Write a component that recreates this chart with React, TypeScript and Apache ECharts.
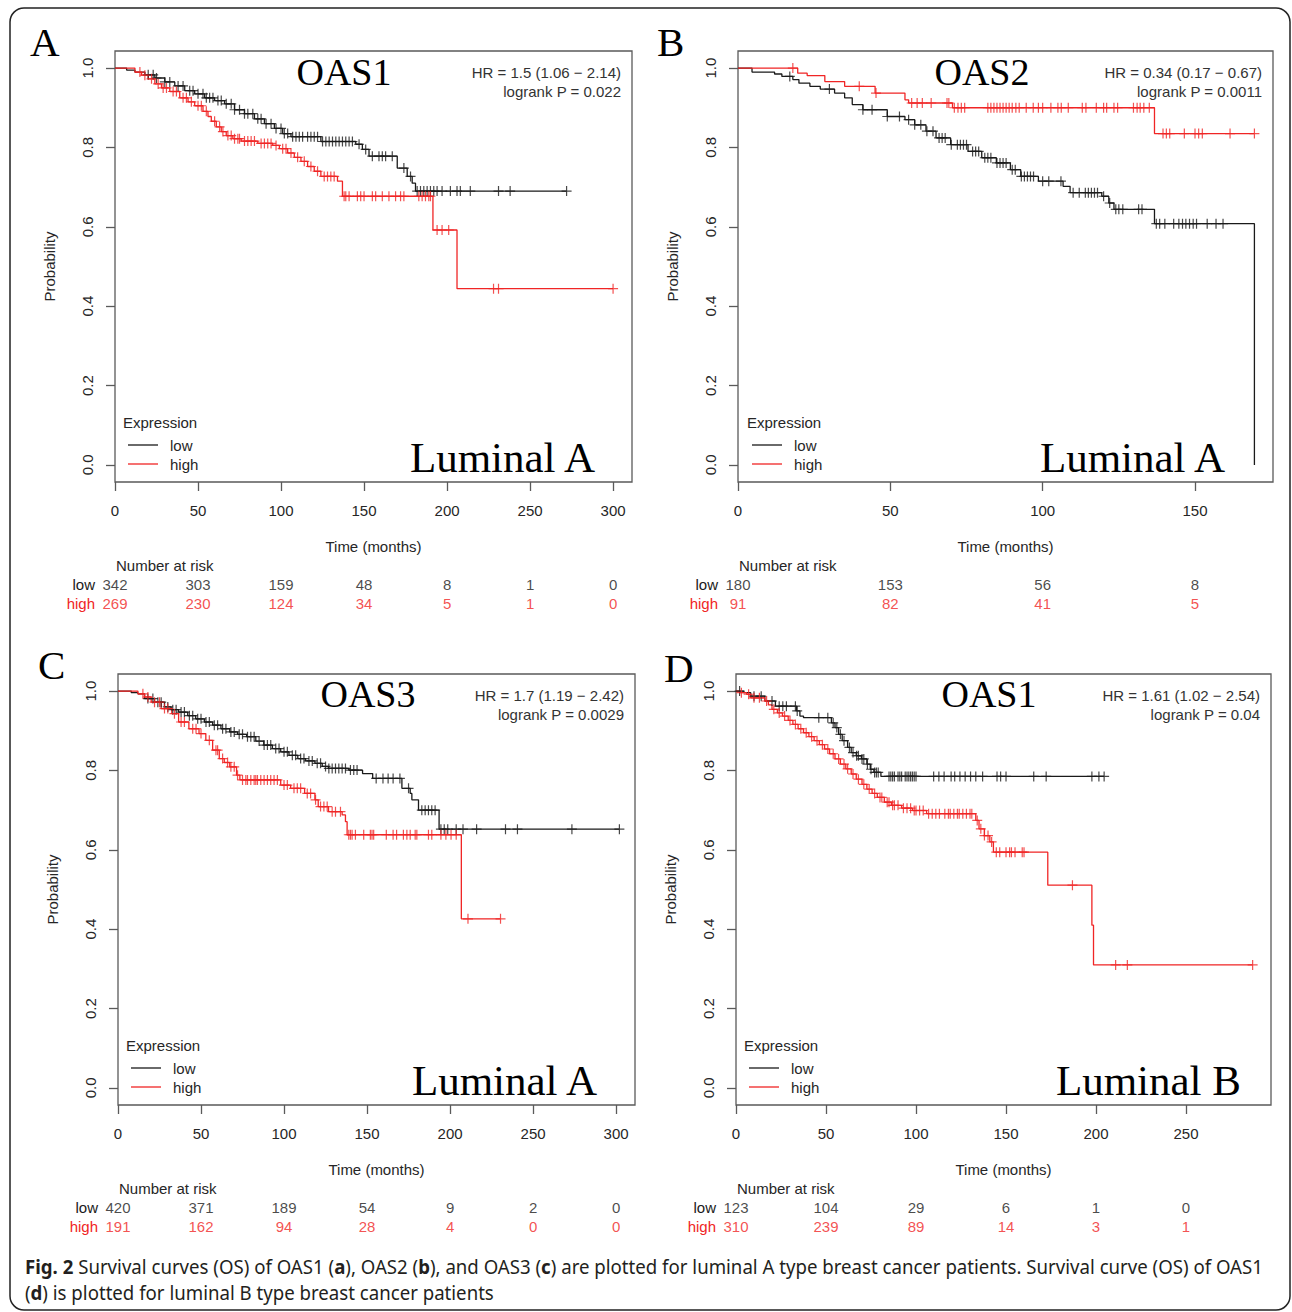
import React, { useEffect, useRef } from "react";
import * as echarts from "echarts";

// ---------------- Panel A : OAS1, Luminal A ----------------
const A_LOW_T = [0, 7, 12, 18, 24, 30, 36, 42, 48, 54, 60, 66, 72, 78, 84, 90, 96, 101, 106, 124, 145, 149, 153, 170, 176, 179, 181];
const A_LOW_S = [1, 0.995, 0.99, 0.983, 0.975, 0.965, 0.955, 0.943, 0.935, 0.925, 0.918, 0.91, 0.895, 0.885, 0.872, 0.86, 0.848, 0.835, 0.827, 0.815, 0.808, 0.795, 0.778, 0.748, 0.727, 0.71, 0.69];
const A_LOW_C = [20, 23, 25, 30, 33, 38, 41, 45, 47, 50, 53, 55, 57, 59, 62, 64, 67, 70, 72, 75, 78, 80, 83, 86, 88, 91, 94, 97, 100, 102, 104, 107, 109, 111, 113, 116, 118, 120, 122, 125, 127, 129, 131, 133, 135, 137, 139, 141, 143, 147, 151, 155, 159, 161, 163, 167, 174, 178, 182, 184, 186, 188, 190, 192, 194, 197, 202, 206, 208, 214, 231, 238, 272];
const A_HIGH_T = [0, 12, 16, 20, 24, 28, 33, 39, 44, 48, 53, 56, 58, 61, 64, 67, 71, 76, 86, 95, 99, 104, 108, 112, 116, 120, 124, 134, 137, 191.5, 206];
const A_HIGH_S = [1, 0.99, 0.982, 0.973, 0.96, 0.95, 0.941, 0.925, 0.915, 0.905, 0.891, 0.878, 0.866, 0.852, 0.84, 0.83, 0.822, 0.816, 0.81, 0.805, 0.797, 0.786, 0.775, 0.765, 0.752, 0.74, 0.727, 0.715, 0.677, 0.592, 0.444];
const A_HIGH_C = [15, 18, 22, 26, 29, 31, 35, 37, 41, 43, 46, 50, 52, 55, 60, 63, 65, 68, 70, 72, 74, 75, 78, 80, 82, 84, 88, 90, 92, 94, 97, 101, 103, 106, 110, 114, 118, 122, 126, 128, 130, 132, 138, 139, 141, 146, 148, 150, 155, 157, 161, 165, 169, 172, 174, 183, 185, 187, 189, 190, 194, 197, 201, 228, 231, 300];
const A_TICKS = [0, 50, 100, 150, 200, 250, 300];
const A_RISK_LOW = [342, 303, 159, 48, 8, 1, 0];
const A_RISK_HIGH = [269, 230, 124, 34, 5, 1, 0];
const A_HR = "HR = 1.5 (1.06 \u2212 2.14)";
const A_P = "logrank P = 0.022";

// ---------------- Panel B : OAS2, Luminal A ----------------
const B_LOW_T = [0, 4.6, 12, 14.4, 18, 20, 23.6, 27, 31.7, 35, 37.5, 41, 49, 54.8, 58, 61.7, 65, 69.8, 75.5, 80, 84.8, 89.4, 92.8, 98.6, 106.7, 109, 119.4, 121.7, 123.4, 136.7, 169.5];
const B_LOW_S = [1, 0.99, 0.985, 0.979, 0.971, 0.962, 0.954, 0.947, 0.937, 0.925, 0.908, 0.895, 0.878, 0.87, 0.857, 0.841, 0.824, 0.807, 0.79, 0.774, 0.761, 0.744, 0.727, 0.715, 0.702, 0.686, 0.677, 0.66, 0.644, 0.608, 0];
const B_LOW_C = [17, 30, 41, 44, 49, 53, 56, 58, 60, 62, 64, 66, 67, 68, 70, 72, 73, 74, 75, 77, 78, 79, 81, 82, 83, 85, 86, 87, 88, 90, 91, 93, 94, 95, 96, 97, 100, 102, 106, 110, 112, 114, 115, 116, 117, 118, 120, 122, 124, 125, 126.3, 131.5, 132.6, 137.3, 138.4, 140.1, 143, 144.7, 145.9, 147, 148.2, 149.4, 150.5, 154, 156.9, 159.2];
const B_HIGH_T = [0, 19.6, 22.7, 28.5, 35, 45, 54.8, 56, 70.4, 136.7];
const B_HIGH_S = [1, 0.987, 0.981, 0.966, 0.954, 0.937, 0.92, 0.912, 0.9, 0.835];
const B_HIGH_C = [18, 39.8, 45.3, 57, 58.8, 60.5, 63.4, 68.6, 69.2, 71, 72.2, 73.3, 74.4, 82, 83, 84, 85, 86, 87, 88, 89, 90, 91.2, 92.3, 94.6, 96.9, 98.6, 100, 102.7, 105, 106.1, 108.4, 113, 114.2, 117.6, 120, 121, 123.4, 124.6, 129.8, 131, 132, 133.2, 135, 139.5, 140.6, 141.7, 146.5, 150, 151.2, 152.4, 161.5, 169.5];
const B_TICKS = [0, 50, 100, 150];
const B_RISK_LOW = [180, 153, 56, 8];
const B_RISK_HIGH = [91, 82, 41, 5];
const B_HR = "HR = 0.34 (0.17 \u2212 0.67)";
const B_P = "logrank P = 0.0011";

// ---------------- Panel C : OAS3, Luminal A ----------------
const C_LOW_T = [0, 8, 12, 16, 22, 28, 32, 36.5, 42, 46.8, 52, 57, 62, 67.3, 72, 77.5, 83, 87.8, 93, 98, 103, 108.3, 113, 118.6, 123, 126.8, 139, 147.3, 153.4, 171, 176, 177, 181, 193.4];
const C_LOW_S = [1, 0.996, 0.993, 0.981, 0.972, 0.96, 0.953, 0.947, 0.938, 0.93, 0.922, 0.914, 0.905, 0.897, 0.891, 0.885, 0.874, 0.864, 0.855, 0.847, 0.838, 0.83, 0.824, 0.818, 0.81, 0.805, 0.801, 0.792, 0.78, 0.755, 0.742, 0.726, 0.7, 0.652];
const C_LOW_C = [18, 21, 24, 26, 30, 33, 35, 38, 40, 43, 45, 48, 50, 53, 55, 58, 60, 63, 65, 68, 70, 73, 75, 78, 80, 82, 85, 88, 90, 92, 95, 97, 100, 102, 105, 107, 110, 112, 115, 117, 120, 122, 125, 127, 129, 131, 133, 135, 137, 140, 142, 144, 155.5, 159.6, 162.7, 165.7, 169.8, 175, 183, 185, 187, 189, 191, 194.5, 196.5, 198.6, 203.7, 207.8, 216, 233.4, 240.6, 273.4, 302];
const C_HIGH_T = [0, 12, 16, 20, 26, 32.4, 36.5, 42.7, 48.8, 52.9, 57, 61, 64, 67.3, 71.4, 73.4, 98, 104, 112.4, 118.6, 120.6, 126.8, 135, 137, 138, 206.8];
const C_HIGH_S = [1, 0.993, 0.985, 0.972, 0.956, 0.943, 0.922, 0.905, 0.893, 0.876, 0.851, 0.83, 0.82, 0.809, 0.788, 0.776, 0.763, 0.755, 0.742, 0.726, 0.709, 0.696, 0.688, 0.671, 0.638, 0.426];
const C_HIGH_C = [15, 18, 22, 25, 28, 30, 34, 38, 40, 45, 47, 50, 55, 59, 60, 63, 66, 68, 70, 72, 75, 77, 78, 80, 82, 83, 84, 86, 88, 90, 92, 94, 96, 100, 102, 106, 108, 110, 114, 116, 119, 122, 124, 126, 129, 131, 134, 139, 140, 141, 143, 148, 152, 153, 154, 161.6, 165.7, 167.8, 171.9, 174, 176, 179, 180, 187, 189, 194.5, 197.5, 200.6, 203.7, 210.8, 230.4];
const C_TICKS = [0, 50, 100, 150, 200, 250, 300];
const C_RISK_LOW = [420, 371, 189, 54, 9, 2, 0];
const C_RISK_HIGH = [191, 162, 94, 28, 4, 0, 0];
const C_HR = "HR = 1.7 (1.19 \u2212 2.42)";
const C_P = "logrank P = 0.0029";

// ---------------- Panel D : OAS1, Luminal B ----------------
const D_LOW_T = [0, 4.3, 8.2, 16, 21.9, 33.6, 35.5, 37.5, 53, 55, 57, 59, 62, 64, 66.8, 69.7, 72.7, 74.6, 76.6, 80.5];
const D_LOW_S = [1, 0.996, 0.987, 0.975, 0.962, 0.95, 0.937, 0.933, 0.92, 0.908, 0.891, 0.875, 0.858, 0.845, 0.837, 0.829, 0.816, 0.803, 0.795, 0.785];
const D_LOW_C = [2, 10, 14, 20, 24, 26, 28, 33, 34, 46, 51, 54, 56, 58, 60, 63, 65, 67, 68, 70, 71, 73, 75, 77, 78, 79, 85, 86, 87, 88, 90, 91, 92, 94, 95, 96, 97, 98, 99, 100, 109.8, 112.7, 115.6, 119.5, 121.5, 124.4, 127.3, 130.3, 133.2, 137, 145, 147, 150, 165.4, 172.3, 197.7, 201.6, 204.5];
const D_HIGH_T = [0, 2, 5.9, 8.2, 16, 18, 20, 23, 25.8, 29, 31.6, 34.5, 37.5, 40.5, 43.4, 46.3, 49.2, 52, 55, 58, 61, 64, 66.8, 70, 72.7, 75.6, 78.5, 82.4, 86.3, 92, 98, 105.9, 133.2, 135, 138, 141, 143, 173.2, 197.7, 198.6];
const D_HIGH_S = [1, 0.996, 0.992, 0.983, 0.975, 0.965, 0.954, 0.945, 0.937, 0.926, 0.916, 0.905, 0.895, 0.885, 0.875, 0.865, 0.854, 0.842, 0.829, 0.816, 0.804, 0.791, 0.778, 0.765, 0.753, 0.742, 0.732, 0.72, 0.712, 0.705, 0.699, 0.691, 0.674, 0.653, 0.636, 0.62, 0.594, 0.511, 0.41, 0.31];
const D_HIGH_C = [3, 7, 10, 13, 17, 21, 24, 27, 30, 33, 36, 39, 42, 45, 48, 51, 54, 57, 60, 62, 65, 68, 71, 74, 77, 80, 81, 84, 85, 87, 88, 90, 93, 95, 97, 99, 100, 102, 104, 107, 109, 111, 113, 116, 118, 119, 121, 123, 124, 126, 128, 130, 131, 134, 136, 138, 140, 142, 144.6, 146.5, 150, 152, 153, 155, 159, 160, 186.9, 210.9, 217.4, 287];
const D_TICKS = [0, 50, 100, 150, 200, 250];
const D_RISK_LOW = [123, 104, 29, 6, 1, 0];
const D_RISK_HIGH = [310, 239, 89, 14, 3, 1];
const D_HR = "HR = 1.61 (1.02 \u2212 2.54)";
const D_P = "logrank P = 0.04";

const Y_TICKS = [0, 0.2, 0.4, 0.6, 0.8, 1.0];
const CAPTION_1_PLAIN = "Survival curves (OS) of OAS1 (a), OAS2 (b), and OAS3 (c) are plotted for luminal A type breast cancer patients. Survival curve (OS) of OAS1";
const CAPTION_1 = "{b|Fig. 2} Survival curves (OS) of OAS1 ({b|a}), OAS2 ({b|b}), and OAS3 ({b|c}) are plotted for luminal A type breast cancer patients. Survival curve (OS) of OAS1";
const CAPTION_2 = "({b|d}) is plotted for luminal B type breast cancer patients";

// ---------------- styling ----------------
const SANS = '"Liberation Sans", Arial, Helvetica, sans-serif';
const SERIF = '"Liberation Serif", "Times New Roman", serif';
const CAP_FONT = '"Noto Sans", "Open Sans", sans-serif';
const BLACK = "#1a1a1a";
const RED = "#f02525";
const AXIS = "#5a5a5a";
const TXT = "#262626";
const PLUS = "path://M5,0L5,10M0,5L10,5";

type Panel = {
  grid: { left: number; top: number; width: number; height: number };
  xMax: number;
  ticks: number[];
  low: [number[], number[], number[]];
  high: [number[], number[], number[]];
  riskLow: number[];
  riskHigh: number[];
  riskTop: number;
  letter: [string, number, number];
  title: [string, number, number];
  hr: [string, string, number, number];
  legend: [number, number];
  subtype: [string, number, number];
};

const PANELS: Panel[] = [
  {
    grid: { left: 115, top: 51, width: 517, height: 431 }, xMax: 311.4, ticks: A_TICKS,
    low: [A_LOW_T, A_LOW_S, A_LOW_C], high: [A_HIGH_T, A_HIGH_S, A_HIGH_C],
    riskLow: A_RISK_LOW, riskHigh: A_RISK_HIGH, riskTop: 575,
    letter: ["A", 30, 42], title: ["OAS1", 344, 72], hr: [A_HR, A_P, 621, 72],
    legend: [123, 422], subtype: ["Luminal A", 595, 457],
  },
  {
    grid: { left: 738, top: 51, width: 535, height: 431 }, xMax: 175.6, ticks: B_TICKS,
    low: [B_LOW_T, B_LOW_S, B_LOW_C], high: [B_HIGH_T, B_HIGH_S, B_HIGH_C],
    riskLow: B_RISK_LOW, riskHigh: B_RISK_HIGH, riskTop: 575,
    letter: ["B", 657, 42], title: ["OAS2", 982, 72], hr: [B_HR, B_P, 1262, 72],
    legend: [747, 422], subtype: ["Luminal A", 1225, 457],
  },
  {
    grid: { left: 118, top: 674, width: 517, height: 431 }, xMax: 311.4, ticks: C_TICKS,
    low: [C_LOW_T, C_LOW_S, C_LOW_C], high: [C_HIGH_T, C_HIGH_S, C_HIGH_C],
    riskLow: C_RISK_LOW, riskHigh: C_RISK_HIGH, riskTop: 1198,
    letter: ["C", 38, 665], title: ["OAS3", 368, 694], hr: [C_HR, C_P, 624, 695],
    legend: [126, 1045], subtype: ["Luminal A", 597, 1080],
  },
  {
    grid: { left: 736, top: 674, width: 535, height: 431 }, xMax: 297.2, ticks: D_TICKS,
    low: [D_LOW_T, D_LOW_S, D_LOW_C], high: [D_HIGH_T, D_HIGH_S, D_HIGH_C],
    riskLow: D_RISK_LOW, riskHigh: D_RISK_HIGH, riskTop: 1198,
    letter: ["D", 664, 668], title: ["OAS1", 989, 694], hr: [D_HR, D_P, 1260, 695],
    legend: [744, 1045], subtype: ["Luminal B", 1241, 1080],
  },
];

function stepData(t: number[], s: number[], c: number[]) {
  const d: number[][] = t.map((x, i) => [x, s[i]]);
  const end = Math.max(...c);
  if (end > t[t.length - 1]) d.push([end, s[s.length - 1]]);
  return d;
}
function survAt(t: number[], s: number[], x: number) {
  let v = s[0];
  for (let i = 0; i < t.length; i++) if (t[i] <= x) v = s[i];
  return v;
}
function censorData(t: number[], s: number[], c: number[]) {
  return c.map((x) => [x, survAt(t, s, x)]);
}

function text(str: string, x: number, y: number, o: any = {}) {
  return {
    type: "text", x, y, silent: true, z: 50,
    style: {
      text: str, fill: o.fill || TXT, fontSize: o.size || 15, fontFamily: o.family || SANS,
      fontWeight: o.weight || "normal", align: o.align || "left", verticalAlign: "middle",
    },
  };
}

function buildOption() {
  const grids: any[] = [];
  const xAxes: any[] = [];
  const yAxes: any[] = [];
  const series: any[] = [];
  const graphic: any[] = [];

  PANELS.forEach((p, i) => {
    grids.push({ ...p.grid, show: true, borderColor: AXIS, borderWidth: 1.3, backgroundColor: "transparent" });
    xAxes.push({
      type: "value", gridIndex: i, min: 0, max: p.xMax, position: "bottom",
      axisLine: { show: false, onZero: false }, splitLine: { show: false },
      axisTick: { show: true, length: 9, lineStyle: { color: AXIS, width: 1.3 }, customValues: p.ticks },
      axisLabel: { customValues: p.ticks, margin: 21, fontSize: 15, color: TXT, fontFamily: SANS },
      name: "Time (months)", nameLocation: "middle", nameGap: 57,
      nameTextStyle: { fontSize: 15, color: TXT, fontFamily: SANS },
    });
    yAxes.push({
      type: "value", gridIndex: i, min: -0.043, max: 1.043, position: "left",
      axisLine: { show: false, onZero: false }, splitLine: { show: false },
      axisTick: { show: true, length: 9, lineStyle: { color: AXIS, width: 1.3 }, customValues: Y_TICKS },
      axisLabel: {
        customValues: Y_TICKS, rotate: 90, margin: 20, fontSize: 15, color: TXT, fontFamily: SANS,
        formatter: (v: number) => v.toFixed(1),
      },
      name: "Probability", nameLocation: "middle", nameGap: 58, nameRotate: 90,
      nameTextStyle: { fontSize: 15, color: TXT, fontFamily: SANS },
    });
  });

  PANELS.forEach((p, i) => {
    const gi = 4 + i;
    grids.push({ left: p.grid.left, width: p.grid.width, top: p.riskTop, height: 38, show: false });
    xAxes.push({ type: "value", gridIndex: gi, min: 0, max: p.xMax, show: false });
    yAxes.push({
      type: "category", gridIndex: gi, inverse: true,
      data: [
        { value: "low", textStyle: { color: BLACK } },
        { value: "high", textStyle: { color: RED } },
      ],
      axisLine: { show: false }, axisTick: { show: false }, splitLine: { show: false },
      axisLabel: { interval: 0, margin: 20, fontSize: 15, fontFamily: SANS },
    });
  });

  PANELS.forEach((p, i) => {
    const lines: [any, string, string][] = [[p.low, BLACK, "low"], [p.high, RED, "high"]];
    lines.forEach(([d, col, nm]) => {
      series.push({
        type: "line", name: nm, xAxisIndex: i, yAxisIndex: i, step: "end",
        showSymbol: false, symbol: "none", silent: true, z: 3,
        lineStyle: { color: col, width: 1.3 },
        data: stepData(d[0], d[1], d[2]),
      });
      series.push({
        type: "scatter", name: nm + "-censor", xAxisIndex: i, yAxisIndex: i, silent: true, z: 4,
        symbol: PLUS, symbolSize: 10,
        itemStyle: { color: "rgba(0,0,0,0)", borderColor: col, borderWidth: 1.2 },
        data: censorData(d[0], d[1], d[2]),
      });
    });
    // number at risk table
    const gi = 4 + i;
    [[p.riskLow, 0, BLACK], [p.riskHigh, 1, RED]].forEach(([vals, row, col]: any) => {
      series.push({
        type: "scatter", xAxisIndex: gi, yAxisIndex: gi, silent: true,
        symbolSize: 1, itemStyle: { color: "rgba(0,0,0,0)" },
        label: {
          show: true, position: "inside", color: col, fontSize: 15, fontFamily: SANS,
          formatter: (q: any) => String(q.value[2]),
        },
        data: p.ticks.map((t, k) => [t, row, vals[k]]),
      });
    });

    // texts
    graphic.push(text(p.letter[0], p.letter[1], p.letter[2], { size: 41, family: SERIF, fill: "#000" }));
    graphic.push(text(p.title[0], p.title[1], p.title[2], { size: 38, family: SERIF, fill: "#000", align: "center" }));
    graphic.push(text(p.hr[0], p.hr[2], p.hr[3], { size: 15, align: "right", fill: "#333" }));
    graphic.push(text(p.hr[1], p.hr[2], p.hr[3] + 19, { size: 15, align: "right", fill: "#333" }));
    graphic.push(text(p.subtype[0], p.subtype[1], p.subtype[2], { size: 43, family: SERIF, fill: "#000", align: "right" }));
    const [lx, ly] = p.legend;
    graphic.push(text("Expression", lx, ly, { size: 15 }));
    graphic.push({ type: "line", silent: true, z: 50, shape: { x1: lx + 5, y1: ly + 23, x2: lx + 35, y2: ly + 23 }, style: { stroke: BLACK, lineWidth: 1.3 } });
    graphic.push({ type: "line", silent: true, z: 50, shape: { x1: lx + 5, y1: ly + 42, x2: lx + 35, y2: ly + 42 }, style: { stroke: RED, lineWidth: 1.3 } });
    graphic.push(text("low", lx + 47, ly + 23, { size: 15 }));
    graphic.push(text("high", lx + 47, ly + 42, { size: 15 }));
    graphic.push(text("Number at risk", p.grid.left + 1, p.riskTop - 10, { size: 15 }));
  });

  // caption, fitted to the reference line length
  let scale = 0.85;
  try {
    const ctx = document.createElement("canvas").getContext("2d");
    if (ctx) {
      ctx.font = `bold 19px ${CAP_FONT}`;
      const wb = ctx.measureText("Fig. 2 ").width;
      ctx.font = `19px ${CAP_FONT}`;
      const wr = ctx.measureText(CAPTION_1_PLAIN).width;
      scale = 1237 / (wb + wr);
    }
  } catch (e) { /* keep default */ }
  const capStyle = (t: string) => ({
    text: t, fill: "#231f20", fontSize: 19, fontFamily: CAP_FONT, align: "left", verticalAlign: "middle",
    rich: { b: { fontWeight: "bold", fontSize: 19, fontFamily: CAP_FONT, fill: "#231f20" } },
  });
  graphic.push({ type: "text", x: 25, y: 1267, scaleX: scale, silent: true, style: capStyle(CAPTION_1) });
  graphic.push({ type: "text", x: 25, y: 1293, scaleX: scale, silent: true, style: capStyle(CAPTION_2) });

  // outer rounded frame
  graphic.push({
    type: "rect", silent: true, z: 60,
    shape: { x: 10, y: 8, width: 1280, height: 1302, r: 14 },
    style: { fill: "none", stroke: "#222", lineWidth: 1.5 },
  });

  return {
    animation: false,
    backgroundColor: "#ffffff",
    grid: grids,
    xAxis: xAxes,
    yAxis: yAxes,
    series,
    graphic: { elements: graphic },
  };
}

export default function App() {
  const ref = useRef<HTMLDivElement>(null);
  useEffect(() => {
    if (!ref.current) return;
    const chart = echarts.init(ref.current, null, { renderer: "svg" });
    chart.setOption(buildOption() as any);
    return () => chart.dispose();
  }, []);
  return (
    <div
      ref={ref}
      style={{ position: "absolute", left: 0, top: 0, width: 1292, height: 1312, background: "#fff" }}
    />
  );
}
